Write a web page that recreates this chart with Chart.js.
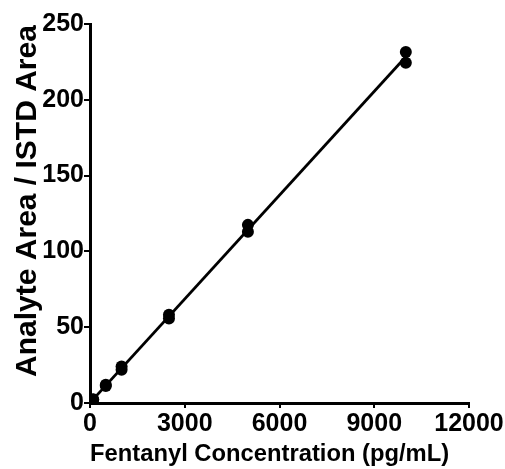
<!DOCTYPE html>
<html>
<head>
<meta charset="utf-8">
<script src="https://cdn.jsdelivr.net/npm/chart.js@4"></script>
<style>
  html, body { margin: 0; padding: 0; background: #ffffff; }
  #wrap { width: 505px; height: 469px; }
</style>
</head>
<body>
<div id="wrap"><canvas id="c" width="505" height="469"></canvas></div>
<script>
// Calibration data
const concentrations = [10, 10, 50, 50, 100, 100, 500, 500, 1000, 1000, 2500, 2500, 5000, 5000, 10000, 10000];
const areaRatios     = [0.3, 0.2, 1.1, 1.3, 2.2, 2.5, 11.2, 12.0, 22.0, 24.0, 55.8, 58.2, 113.0, 117.5, 224.5, 231.5];
const xTickValues = [0, 3000, 6000, 9000, 12000];
const yTickValues = [0, 50, 100, 150, 200, 250];
const xTitle = 'Fentanyl Concentration (pg/mL)   ';
const yTitle = '   Analyte Area / ISTD Area';

// least-squares fit from the points, drawn across the measured range
const n = concentrations.length;
const mx = concentrations.reduce((a, b) => a + b, 0) / n;
const my = areaRatios.reduce((a, b) => a + b, 0) / n;
let sxy = 0, sxx = 0;
for (let i = 0; i < n; i++) { sxy += (concentrations[i] - mx) * (areaRatios[i] - my); sxx += (concentrations[i] - mx) ** 2; }
const slope = sxy / sxx, intercept = my - slope * mx;
const xMin = Math.min(...concentrations), xMax = Math.max(...concentrations);
const fitLine = [{x: xMin, y: intercept + slope * xMin}, {x: xMax, y: intercept + slope * xMax}];

const points = concentrations.map((c, i) => ({x: c, y: areaRatios[i]}));
const FONT = "'Liberation Sans', Arial, sans-serif";

new Chart(document.getElementById('c'), {
  data: {
    datasets: [
      { type: 'line', data: fitLine, borderColor: '#000', borderWidth: 2.8, pointRadius: 0, fill: false, order: 2 },
      { type: 'scatter', data: points, backgroundColor: '#000', borderColor: '#000', pointRadius: 6, pointBorderWidth: 0, order: 1 }
    ]
  },
  options: {
    responsive: false,
    animation: false,
    devicePixelRatio: 1,
    layout: { padding: { left: 6, top: 24, right: 36, bottom: 0 } },
    plugins: { legend: { display: false }, tooltip: { enabled: false } },
    scales: {
      x: {
        type: 'linear', min: 0, max: 12000,
        afterBuildTicks: s => { s.ticks = xTickValues.map(v => ({value: v})); },
        afterFit: s => { s.height = 66; },
        grid: { display: true, drawOnChartArea: false, drawTicks: true, tickLength: 5, color: '#000', lineWidth: 2 },
        border: { display: true, color: '#000', width: 3 },
        ticks: { color: '#000', padding: 1, maxRotation: 0, callback: v => String(v), font: { family: FONT, size: 25, weight: 'bold' } },
        title: { display: true, text: xTitle, color: '#000', padding: { top: 0, bottom: 0 }, font: { family: FONT, size: 24, weight: 'bold' } }
      },
      y: {
        type: 'linear', min: 0, max: 250,
        afterBuildTicks: s => { s.ticks = yTickValues.map(v => ({value: v})); },
        afterFit: s => { s.width = 84; },
        grid: { display: true, drawOnChartArea: false, drawTicks: true, tickLength: 6, color: '#000', lineWidth: 2 },
        border: { display: true, color: '#000', width: 3 },
        ticks: { color: '#000', padding: 0, callback: v => String(v), font: { family: FONT, size: 25, weight: 'bold' } },
        title: { display: true, text: yTitle, color: '#000', padding: { top: 4, bottom: 0 }, font: { family: FONT, size: 30, weight: 'bold' } }
      }
    }
  }
});
</script>
</body>
</html>
